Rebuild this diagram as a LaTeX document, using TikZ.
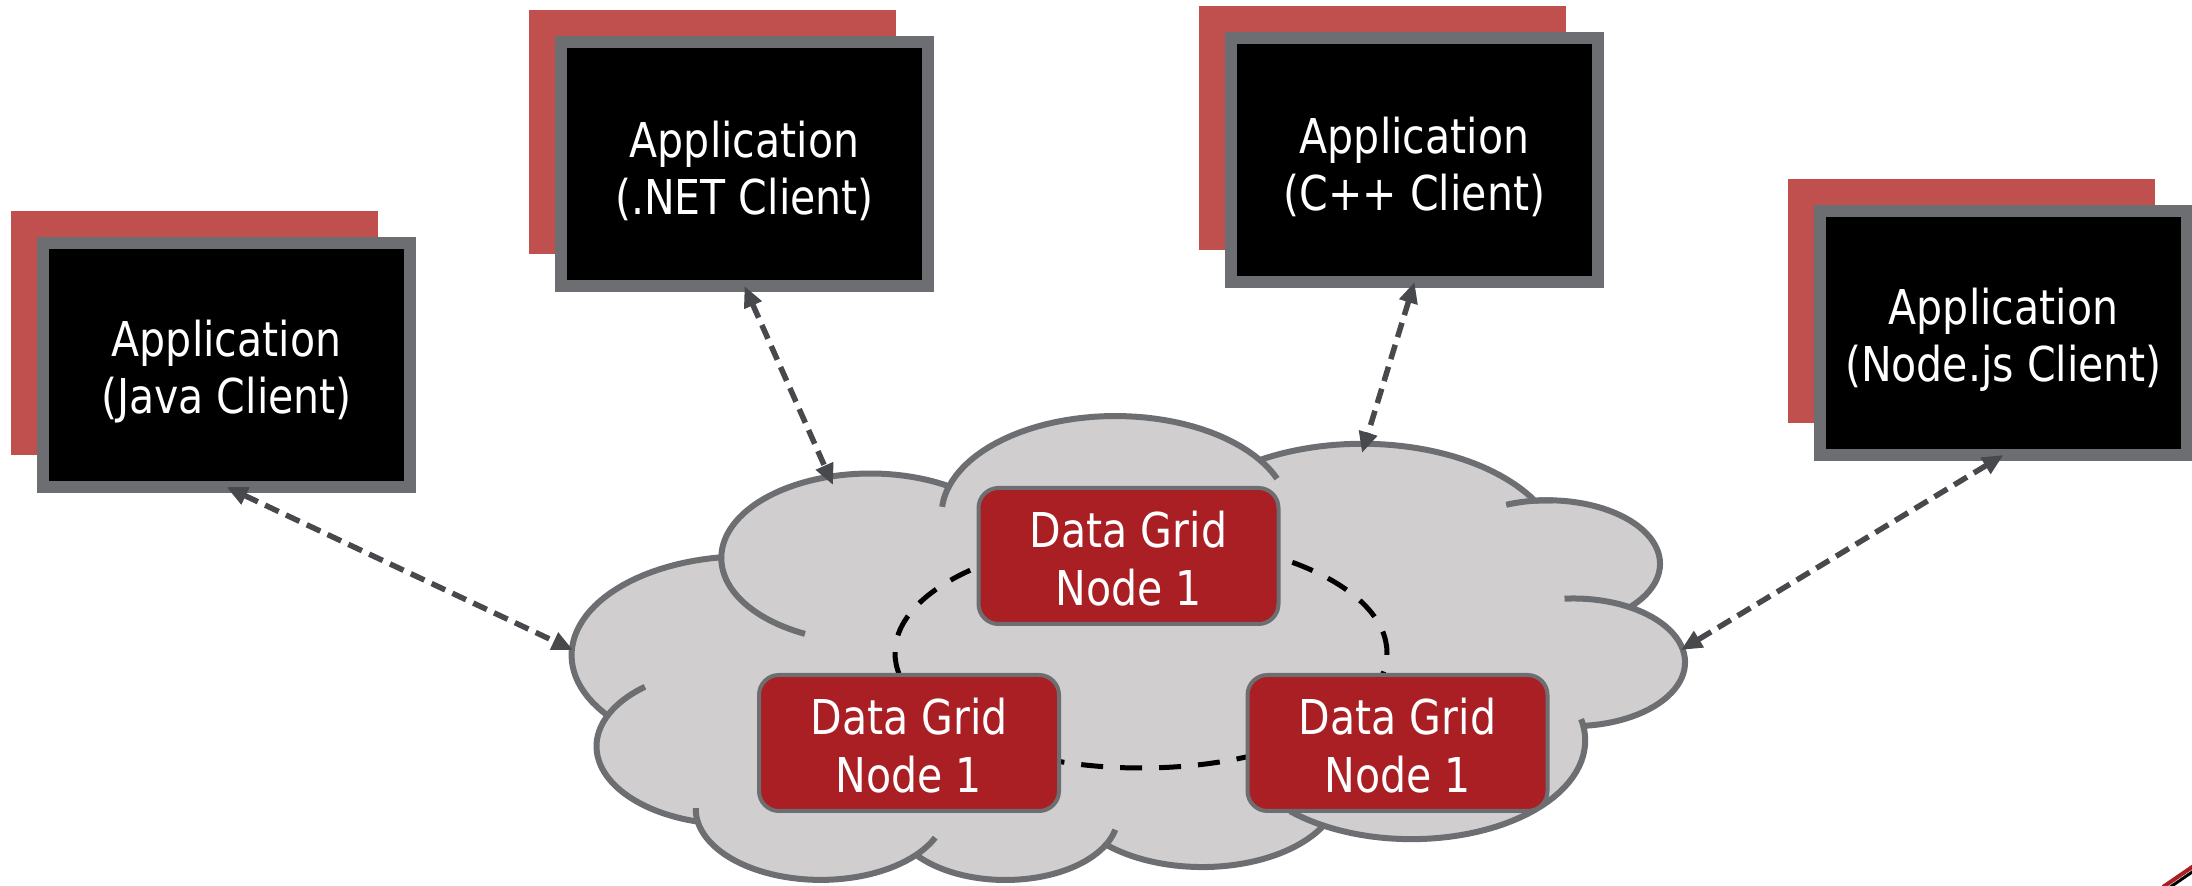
\documentclass[tikz,border=0pt]{standalone}
\usepackage{fontspec}
\newfontfamily\appfont[FakeStretch=0.855]{DejaVu Sans}
\usetikzlibrary{arrows.meta,shadows}
\definecolor{shadowred}{HTML}{C0504D}
\definecolor{boxgray}{HTML}{6D6E71}
\definecolor{cloudfill}{HTML}{D0CECE}
\definecolor{gridred}{HTML}{A91F24}
\definecolor{arrowgray}{HTML}{48494D}
\newcommand{\apptop}{\rule{0pt}{25pt}}
\newcommand{\gridtop}{\rule{0pt}{21.2pt}}
\tikzset{
  appbox/.style={draw=boxgray, line width=6pt, fill=black,
    minimum width=183.5pt, minimum height=122pt, inner sep=0pt, outer sep=0pt,
    text=white, align=center, font=\appfont\fontsize{24pt}{28.5pt}\selectfont,
    general shadow={fill=shadowred, shadow xshift=-16pt, shadow yshift=16pt}},
  gridbox/.style={draw=boxgray, line width=2pt, fill=gridred, rounded corners=10pt,
    minimum width=150pt, minimum height=68pt, inner sep=0pt, outer sep=0pt,
    text=white, align=center, font=\appfont\fontsize{24pt}{29pt}\selectfont},
  conn/.style={draw=arrowgray, line width=2.75pt, dash pattern=on 7.5pt off 4pt,
    >={Triangle[length=10.5pt,width=9pt]}, <->},
  ring/.style={draw=black, line width=2.5pt, dash pattern=on 11pt off 8.5pt},
  cloudline/.style={draw=boxgray, line width=3pt},
}
\begin{document}
\begin{tikzpicture}[x=0.5pt,y=-0.5pt]
\useasboundingbox (0,0) rectangle (2192,886);

% application boxes
\node[appbox] (java) at (226.5,365) {\apptop Application\\(Java Client)};
\node[appbox] (net)  at (744.5,164) {\apptop Application\\(.NET Client)};
\node[appbox] (cpp)  at (1414.5,160) {\apptop Application\\(C++ Client)};
\node[appbox] (nodejs) at (2003.5,333) {\apptop Application\\(Node.js Client)};

% cloud (rotated PowerPoint cloud)
\begin{scope}[shift={(1684,881.5)}, x={(-1.28704pt,0pt)}, y={(0pt,0.53681pt)}]
\filldraw[fill=cloudfill, cloudline, line join=round]
 plot[domain=-187.74:-59.64, samples=40] ({105.91+67.53*cos(\x)},{131.32+91.90*sin(\x)})
 -- plot[domain=-152.02:-45.47, samples=40] ({187.15+53.33*cos(\x)},{86.12+72.67*sin(\x)})
 -- plot[domain=-153.50:-37.34, samples=40] ({263.61+43.65*cos(\x)},{60.85+59.45*sin(\x)})
 -- plot[domain=-139.71:-10.21, samples=40] ({335.36+48.57*cos(\x)},{67.43+65.95*sin(\x)})
 -- plot[domain=-74.77:23.21, samples=40] ({369.15+53.33*cos(\x)},{125.92+72.73*sin(\x)})
 -- plot[domain=-37.51:81.86, samples=40] ({364.42+67.75*cos(\x)},{210.72+92.20*sin(\x)})
 -- plot[domain=0.46:121.97, samples=40] ({316.16+57.85*cos(\x)},{301.36+78.67*sin(\x)})
 -- plot[domain=16.84:146.23, samples=40] ({220.91+67.52*cos(\x)},{341.40+92.15*sin(\x)})
 -- plot[domain=58.98:150.20, samples=40] ({124.98+77.20*cos(\x)},{302.29+105.43*sin(\x)})
 -- plot[domain=83.31:223.11, samples=40] ({52.91+43.60*cos(\x)},{295.91+59.18*sin(\x)})
 -- plot[domain=120.36:264.11, samples=40] ({43.04+43.45*cos(\x)},{204.16+59.45*sin(\x)})
 -- cycle;
\draw[cloudline]
 plot[domain=85.55:120.36, samples=20] ({43.04+43.45*cos(\x)},{204.16+59.45*sin(\x)})
 plot[domain=68.23:92.75, samples=20] ({52.91+43.60*cos(\x)},{295.91+59.18*sin(\x)})
 plot[domain=146.23:158.47, samples=20] ({220.91+67.52*cos(\x)},{341.40+92.15*sin(\x)})
 plot[domain=4.74:16.84, samples=20] ({220.91+67.52*cos(\x)},{341.40+92.15*sin(\x)})
 plot[domain=-64.03:0.46, samples=30] ({316.16+57.85*cos(\x)},{301.36+78.67*sin(\x)})
 plot[domain=23.21:49.65, samples=20] ({369.15+53.33*cos(\x)},{125.92+72.73*sin(\x)})
 plot[domain=-10.21:0.815, samples=20] ({335.36+48.57*cos(\x)},{67.43+65.95*sin(\x)})
 plot[domain=-156.29:-139.71, samples=20] ({335.36+48.57*cos(\x)},{67.43+65.95*sin(\x)})
 plot[domain=-167.73:-151.93, samples=20] ({263.61+43.65*cos(\x)},{60.85+59.45*sin(\x)})
 plot[domain=-59.64:-45.74, samples=20] ({105.91+67.53*cos(\x)},{131.32+91.90*sin(\x)})
 plot[domain=-192.5:-187.74, samples=10] ({105.91+67.53*cos(\x)},{131.32+91.90*sin(\x)});
\end{scope}

% connection points on the cloud
\coordinate (cJ) at (573,650);
\coordinate (cN) at (833,485);
\coordinate (cC) at (1362,453);
\coordinate (cS) at (1681,650);

% ring between grid nodes
\draw[ring] (1141,653) ellipse [x radius=123pt, y radius=57.5pt];

% data grid nodes
\node[gridbox] (g1) at (1128.5,556) {\gridtop Data Grid\\Node 1};
\node[gridbox] (g2) at (909,743) {\gridtop Data Grid\\Node 1};
\node[gridbox] (g3) at (1397.5,743) {\gridtop Data Grid\\Node 1};

% connectors
\draw[conn] (java.south) -- (cJ);
\draw[conn] (net.south) -- (cN);
\draw[conn] (cpp.south) -- (cC);
\draw[conn] (nodejs.south) -- (cS);

% cut-off element in the corner
\draw[black, line width=1.5pt] (2166,890) -- (2198,868);
\draw[gridred, line width=2pt] (2163,887) -- (2198,863);
\end{tikzpicture}
\end{document}
